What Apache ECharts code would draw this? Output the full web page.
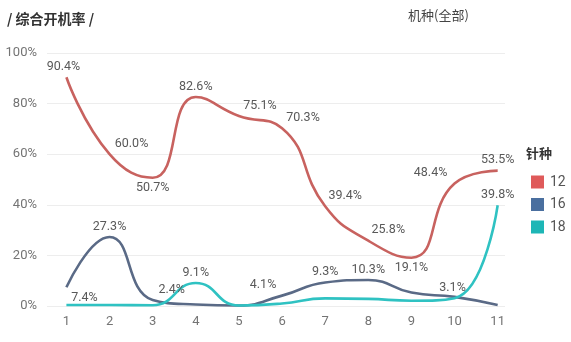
<!DOCTYPE html>
<html>
<head>
<meta charset="utf-8">
<style>
  html, body { margin: 0; padding: 0; background: #ffffff; }
  #chart { width: 571px; height: 342px; }
</style>
<script src="https://cdn.jsdelivr.net/npm/echarts@6/dist/echarts.min.js"></script>
</head>
<body>
<div id="chart"></div>
<script>
// Machine numbers along the x axis
const categories = ['1', '2', '3', '4', '5', '6', '7', '8', '9', '10', '11'];

// Utilisation rate (%) per needle type
const needle12 = [90.4, 60.0, 50.7, 82.6, 75.1, 70.3, 39.4, 25.8, 19.1, 48.4, 53.5];
const needle16 = [7.4, 27.3, 2.4, 0.6, 0.2, 4.1, 9.3, 10.3, 5.3, 3.6, 0.4];
const needle18 = [0.4, 0.4, 0.3, 9.1, 0.2, 1.0, 3.0, 2.8, 2.1, 3.1, 39.8];

// Y axis ticks
const yTicks = [0, 20, 40, 60, 80, 100];

const seriesNames = ['12', '16', '18'];

// Which points carry a value label, and where it sits: [position, dx]
const labelLayout = {
  '12': { 0: ['top', -3], 1: ['top', 22], 2: ['bottom', 0], 3: ['top', 0], 4: ['top', 21],
          5: ['top', 21], 6: ['top', 20], 7: ['top', 20], 8: ['bottom', 0], 9: ['top', -24], 10: ['top', 0] },
  '16': { 0: ['bottom', 18], 1: ['top', 0], 2: ['top', 19], 5: ['top', -19], 6: ['top', 0], 7: ['top', 0] },
  '18': { 3: ['top', 0], 9: ['top', -2], 10: ['top', 0] }
};

const legendColors = { '12': '#df5a5a', '16': '#4a6f9f', '18': '#1db6b6' };
const lineColors = { '12': '#c8625f', '16': '#5a6a86', '18': '#2fc2c2' };

const numFont = 'Roboto, sans-serif';

function buildSeries(name, values) {
  const layout = labelLayout[name];
  const data = categories.map((c, i) => {
    const item = { value: [Number(c), values[i]] };
    if (layout[i]) {
      item.label = { show: true, position: layout[i][0] };
    }
    return item;
  });
  return {
    name: name,
    type: 'line',
    smooth: 0.5,
    symbol: 'circle',
    symbolSize: 0.01,
    showSymbol: true,
    itemStyle: { color: legendColors[name] },
    lineStyle: { color: lineColors[name], width: 2.6 },
    label: {
      show: false,
      distance: 4,
      color: '#595959',
      fontSize: 12.5,
      fontFamily: numFont,
      formatter: p => p.value[1].toFixed(1) + '%'
    },
    // shift selected labels sideways off the curve
    labelLayout: p => {
      const l = layout[p.dataIndex];
      return l ? { dx: l[1], hideOverlap: false } : {};
    },
    emphasis: { disabled: true },
    data: data
  };
}

const chart = echarts.init(document.getElementById('chart'), null, { renderer: 'canvas' });

chart.setOption({
  animation: false,
  backgroundColor: '#ffffff',
  grid: { left: 47, right: 66, top: 53, bottom: 36, containLabel: false },
  xAxis: {
    type: 'value',
    min: 0.55,
    max: 11.17,
    axisLine: { show: false },
    axisTick: { show: false },
    splitLine: { show: false },
    axisLabel: {
      customValues: categories.map(Number),
      color: '#747474',
      fontSize: 13,
      fontFamily: numFont,
      margin: 9
    }
  },
  yAxis: {
    type: 'value',
    min: yTicks[0],
    max: yTicks[yTicks.length - 1],
    interval: yTicks[1] - yTicks[0],
    axisLine: { show: false },
    axisTick: { show: false },
    splitLine: { lineStyle: { color: '#ededed', width: 1 } },
    axisLabel: {
      formatter: '{value}%',
      color: '#747474',
      fontSize: 13,
      fontFamily: numFont,
      margin: 10
    }
  },
  legend: {
    orient: 'vertical',
    left: 526,
    top: 170,
    itemWidth: 13,
    itemHeight: 13,
    itemGap: 8.5,
    icon: 'rect',
    data: seriesNames,
    textStyle: { color: '#555555', fontSize: 14, fontFamily: numFont, lineHeight: 13, padding: [0, 0, 0, 1] }
  },
  graphic: [
    {
      type: 'text', left: 7, top: 12,
      style: { text: '/ 综合开机率 /', fill: '#333333', font: 'bold 14px "Noto Sans CJK SC", sans-serif' }
    },
    {
      type: 'text', left: 408, top: 9,
      style: { text: '机种(全部)', fill: '#444444', font: '13px "Noto Sans CJK SC", sans-serif' }
    },
    {
      type: 'text', left: 526, top: 147,
      style: { text: '针种', fill: '#333333', font: 'bold 13px "Noto Sans CJK SC", sans-serif' }
    }
  ],
  series: [
    buildSeries('12', needle12),
    buildSeries('16', needle16),
    buildSeries('18', needle18)
  ]
});
</script>
</body>
</html>
